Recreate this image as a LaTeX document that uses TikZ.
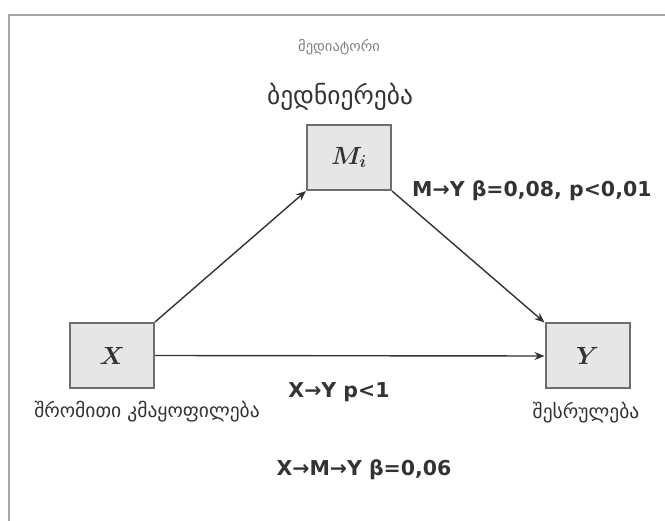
\documentclass[tikz,border=0pt]{standalone}
\usepackage{fontspec}
\setmainfont{DejaVu Sans}
\usepackage{amsmath}
\usetikzlibrary{arrows.meta}
\definecolor{boxfill}{HTML}{E6E6E6}
\definecolor{boxline}{HTML}{6E6E6E}
\definecolor{ink}{HTML}{333333}
\begin{document}
\begin{tikzpicture}[x=1pt,y=-1pt,
  varbox/.style={draw=boxline,fill=boxfill,line width=2pt,minimum width=84pt,minimum height=65pt,inner sep=0pt,text=ink,font=\fontsize{23}{27}\selectfont},
  path/.style={draw=ink,line width=1.4pt,-{Stealth[length=10pt,width=8pt]}},
  stat/.style={font=\bfseries\fontsize{20.5}{24}\selectfont,text=ink,inner sep=0pt},
  caption/.style={font=\fontsize{19.5}{23}\selectfont,text=ink,inner sep=0pt}]
\useasboundingbox (0,0) rectangle (665,521);
% open frame: left and top edges only
\draw[color=gray!70,line width=2pt] (9,521) -- (9,15) -- (665,15);

% variables
\node[varbox] (M) at (349,157.5) {$\boldsymbol{M_i}$};
\node[varbox] (X) at (112,355.5) {$\boldsymbol{X}$};
\node[varbox] (Y) at (587.5,356) {$\boldsymbol{Y}$};

% paths
\draw[path] (X.north east) -- (M.south west);
\draw[path] (M.south east) -- (Y.north west);
\draw[path] (X.east) -- (Y.west);

% titles
\node[caption,font=\fontsize{14.5}{17}\selectfont,text=gray] (role) at (339,47) {მედიატორი};
\node[caption,font=\fontsize{25.5}{30}\selectfont] (mname) at (340,97) {ბედნიერება};
\node[caption] (xname) at (147,412) {შრომითი კმაყოფილება};
\node[caption] (yname) at (586,413) {შესრულება};

% coefficients
\node[stat,anchor=west] (my) at (412,191) {M→Y β=0,08, p<0,01};
\node[stat] (xy) at (339,392) {X→Y p<1};
\node[stat] (xmy) at (364,470) {X→M→Y β=0,06};
\end{tikzpicture}
\end{document}
